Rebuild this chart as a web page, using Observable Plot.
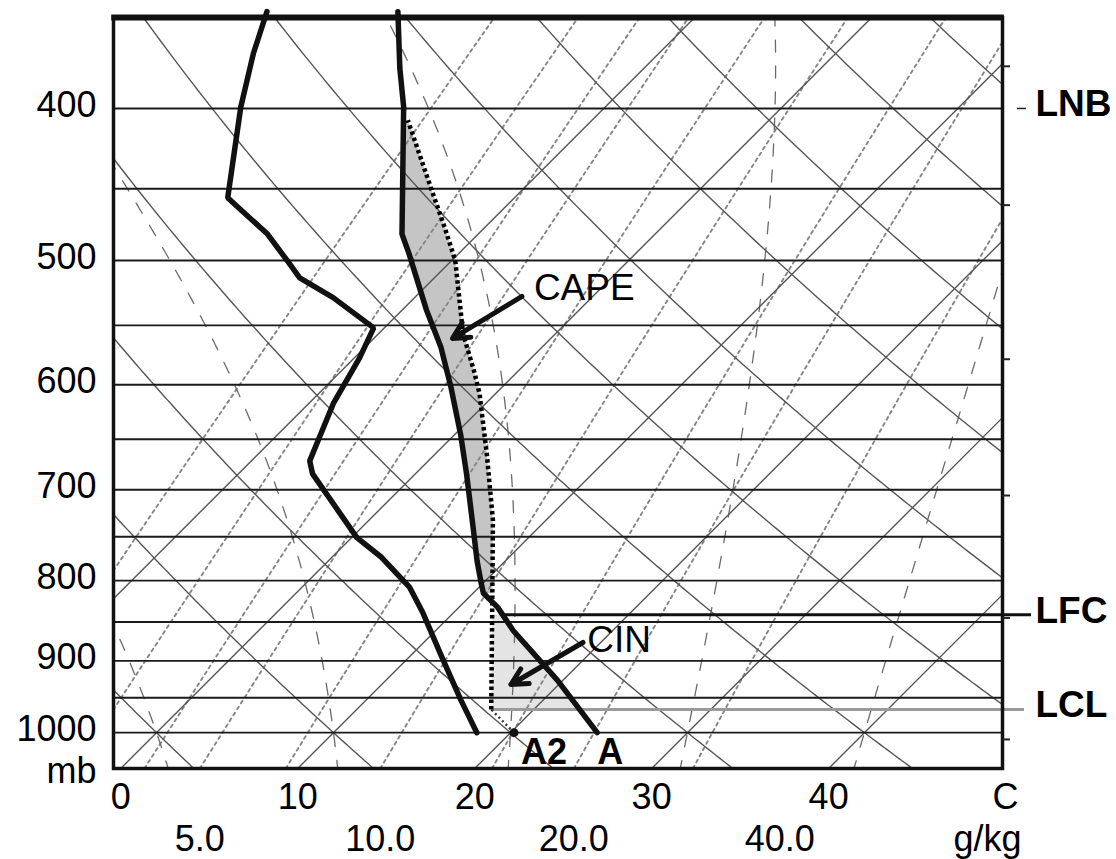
<!DOCTYPE html>
<html>
<head>
<meta charset="utf-8">
<script src="https://cdn.jsdelivr.net/npm/d3@7"></script>
<script src="https://cdn.jsdelivr.net/npm/@observablehq/plot@0.6"></script>
<style>
  html, body { margin: 0; padding: 0; background: #fff; }
</style>
</head>
<body>
<div id="chart"></div>
<script>
// ---------- grid values (tick / line values of the thermodynamic diagram) ----------
const isobars = [400, 450, 500, 550, 600, 650, 700, 750, 800, 850, 900, 950, 1000];
const pressureLabels = [400, 500, 600, 700, 800, 900, 1000];
const isotherms = [-10, 0, 10, 20, 30, 40];
const dryAdiabats = [0, 10, 20, 30, 40, 50, 60, 70, 80, 90, 100, 110];   // theta, °C
const moistAdiabats = [0, 10, 20, 30, 40];                               // theta-w, °C
const mixingRatios = [2, 3, 4, 5, 7, 10, 15, 20, 30];                    // g/kg
const tempTicks = [0, 10, 20, 30, 40, 50];
const tempTickLabels = ["0", "10", "20", "30", "40", "C"];
const mixTicks = [5, 10, 20, 40];
const mixTickLabels = ["5.0", "10.0", "20.0", "40.0"];
const heightTickP = [1010, 845, 706, 578, 461, 376];

// ---------- sounding, bottom to top ----------
const envP = [1000, 926, 896, 861, 832, 815, 803, 777, 740, 684, 645, 602, 568, 538, 495, 481, 399, 377, 347];
const envT = [24.9, 19.7, 17.3, 14.4, 12.2, 10.6, 9.9, 8.4, 6.3, 2.9, 0.3, -2.9, -5.7, -8.6, -12.8, -14.3, -21.4, -23.8, -27.1];

const dewP = [1000, 954, 899, 839, 808, 773, 751, 725, 684, 671, 617, 577, 552, 528, 513, 500, 481, 460, 456, 399, 369, 347];
const dewT = [18.1, 15.4, 12.1, 8.3, 6.1, 2.8, 0.3, -2.0, -5.8, -6.7, -8.6, -9.7, -10.6, -14.6, -17.6, -19.3, -21.9, -25.5, -26.2, -30.6, -32.9, -34.5];

const parcelP = [966.5, 841, 732, 664, 608, 588, 557, 500, 476, 451, 407];
const parcelT = [17.6, 12.3, 7.0, 2.9, -0.9, -2.5, -5.2, -9.8, -12.3, -15.1, -20.4];

const parcelLowP = [1000, 966.5];   // A2 -> LCL
const parcelLowT = [20.2, 17.6];

// levels
const lclP = 966.5, lfcP = 841, lnbP = 400, capeBottomP = 815, capeTopP = 407;

// ---------- diagram geometry ----------
const PBOT = 1054, PTOP = 350, SKEW = 38.49;
const X0 = -2.43, X1 = 47.80;
const sx = (T, p) => T + SKEW * Math.log(1000 / p);
const KAPPA = 0.2857;

function interp(P, T, p) {
  for (let i = 0; i < P.length - 1; i++) {
    const a = P[i], b = P[i + 1];
    if (p <= a && p >= b) {
      const f = Math.log(a / p) / Math.log(a / b);
      return T[i] + f * (T[i + 1] - T[i]);
    }
  }
  return p > P[0] ? T[0] : T[T.length - 1];
}

function region(pBot, pTop) {
  const pts = [];
  pts.push({p: pBot, T: interp(parcelP, parcelT, pBot)});
  parcelP.forEach((p, i) => { if (p < pBot && p > pTop) pts.push({p, T: parcelT[i]}); });
  pts.push({p: pTop, T: interp(parcelP, parcelT, pTop)});
  pts.push({p: pTop, T: interp(envP, envT, pTop)});
  for (let i = envP.length - 1; i >= 0; i--) if (envP[i] < pBot && envP[i] > pTop) pts.push({p: envP[i], T: envT[i]});
  pts.push({p: pBot, T: interp(envP, envT, pBot)});
  return pts;
}

const pSamples = d3.range(PBOT, PTOP - 6, -4);

// isotherms (straight)
const isoData = isotherms.flatMap(T => [PBOT, PTOP - 5].map(p => ({id: T, X: sx(T, p), p})));
// dry adiabats
const dryData = dryAdiabats.flatMap(th => pSamples.map(p => ({id: th, X: sx((th + 273.15) * Math.pow(p / 1000, KAPPA) - 273.15, p), p})));
// moist (pseudo) adiabats, integrated from 1000 hPa
function dTdp(p, T) {
  const es = 6.112 * Math.exp(17.67 * (T - 273.15) / (T - 29.65));
  const rs = 0.622 * es / (p - es);
  const Lv = 2.501e6, Rd = 287.04, cp = 1005.7;
  return (Rd * T + Lv * rs) / (cp + Lv * Lv * rs * 0.622 / (Rd * T * T)) / p;
}
function rk4(p, T, h) {
  const k1 = dTdp(p, T), k2 = dTdp(p + h / 2, T + h * k1 / 2), k3 = dTdp(p + h / 2, T + h * k2 / 2), k4 = dTdp(p + h, T + h * k3);
  return T + h * (k1 + 2 * k2 + 2 * k3 + k4) / 6;
}
function moistLine(tw) {
  const out = [];
  let T = tw + 273.15;
  for (let p = 1000; p >= PTOP - 6; p -= 2) { out.push({id: tw, X: sx(T - 273.15, p), p}); T = rk4(p, T, -2); }
  const down = [];
  T = tw + 273.15;
  for (let p = 1000; p <= PBOT + 4; p += 2) { T = rk4(p, T, 2); down.push({id: tw, X: sx(T - 273.15, p + 2), p: p + 2}); }
  return down.reverse().concat(out);
}
const moistData = moistAdiabats.flatMap(moistLine);
// mixing ratio lines
const tdFromW = (w, p) => { const e = w * p / (622 + w); const l = Math.log(e / 6.112); return 243.5 * l / (17.67 - l); };
const mixData = mixingRatios.flatMap(w => pSamples.map(p => ({id: w, X: sx(tdFromW(w, p), p), p})));

const prof = (P, T) => P.map((p, i) => ({p, X: sx(T[i], p)}));
const capeRegion = region(capeBottomP, capeTopP).map(d => ({p: d.p, X: sx(d.T, d.p)}));
const cinRegion = region(lclP, lfcP).map(d => ({p: d.p, X: sx(d.T, d.p)}));

const FONT = "'Liberation Sans', Arial, Helvetica, sans-serif";
const pxX = (px) => X0 + (px - 113) * (X1 - X0) / 889;  // helper for annotation extents only

const annotations = [
  {text: "CAPE", T: -3.1, p: 530.2},
  {text: "CIN", T: 19.8, p: 888.9}
];
const arrows = [
  {T1: -4.0, p1: 527.1, T2: -5.55, p2: 560.6},
  {T1: 19.0, p1: 876, T2: 17.3, p2: 931.7}
];

const chart = Plot.plot({
  width: 1116,
  height: 859,
  marginLeft: 113,
  marginRight: 114,
  marginTop: 17,
  marginBottom: 91,
  x: {domain: [X0, X1], axis: null},
  y: {type: "log", domain: [PBOT, PTOP], axis: null},
  style: {fontFamily: FONT, background: "#fff", color: "#000", overflow: "visible"},
  marks: [
    // shading
    Plot.line(capeRegion, {x: "X", y: "p", fill: "#c5c5c5", stroke: "none"}),
    Plot.line(cinRegion, {x: "X", y: "p", fill: "#e4e4e4", stroke: "none"}),
    // grid
    Plot.line(mixData, {x: "X", y: "p", z: "id", stroke: "#858585", strokeWidth: 1.9, strokeDasharray: "3,4", clip: true}),
    Plot.line(moistData, {x: "X", y: "p", z: "id", stroke: "#6a6a6a", strokeWidth: 1.3, strokeDasharray: "12,14", clip: true}),
    Plot.line(isoData, {x: "X", y: "p", z: "id", stroke: "#555", strokeWidth: 1.4, clip: true}),
    Plot.line(dryData, {x: "X", y: "p", z: "id", stroke: "#555", strokeWidth: 1.4, clip: true}),
    Plot.ruleY(isobars, {stroke: "#1a1a1a", strokeWidth: 1.9}),
    // LCL / LFC / LNB levels
    Plot.ruleY([lclP], {x1: sx(interp(parcelP, parcelT, lclP), lclP), x2: pxX(1024), stroke: "#9a9a9a", strokeWidth: 3}),
    Plot.ruleY([lfcP], {x1: sx(interp(envP, envT, lfcP), lfcP), x2: pxX(1031), stroke: "#111", strokeWidth: 3}),
    Plot.ruleY([lnbP], {x1: pxX(1017), x2: pxX(1026), stroke: "#222", strokeWidth: 1.5}),
    // parcel path
    Plot.line(prof(parcelP, parcelT), {x: "X", y: "p", stroke: "#000", strokeWidth: 4.5, strokeDasharray: "3.5,3", strokeLinecap: "butt"}),
    Plot.line(prof(parcelLowP, parcelLowT), {x: "X", y: "p", stroke: "#333", strokeWidth: 2.4, strokeDasharray: "2,3", strokeLinecap: "butt"}),
    // profiles
    Plot.line(prof(dewP, dewT), {x: "X", y: "p", stroke: "#111", strokeWidth: 5.5, strokeLinejoin: "miter"}),
    Plot.line(prof(envP, envT), {x: "X", y: "p", stroke: "#111", strokeWidth: 5.5, strokeLinejoin: "miter"}),
    Plot.dot([{p: parcelLowP[0], T: parcelLowT[0]}], {x: d => sx(d.T, d.p), y: "p", r: 4.5, fill: "#111"}),
    // arrows
    Plot.arrow(arrows, {x1: d => sx(d.T1, d.p1), y1: "p1", x2: d => sx(d.T2, d.p2), y2: "p2", stroke: "#111", strokeWidth: 5, headLength: 5.5, headAngle: 55}),
    // frame
    Plot.frame({stroke: "#111", strokeWidth: 3.5}),
    Plot.ruleY([PTOP], {x1: X0 - 0.1, x2: X1 + 0.1, stroke: "#111", strokeWidth: 6}),
    Plot.ruleY(heightTickP, {x1: X1, x2: pxX(1010), stroke: "#222", strokeWidth: 2}),
    // texts
    Plot.text(pressureLabels, {y: d => d, text: d => String(d), frameAnchor: "left", textAnchor: "end", dx: -17, dy: -3, fontSize: 36}),
    Plot.text(["mb"], {frameAnchor: "bottom-left", textAnchor: "end", lineAnchor: "bottom", dx: -17, dy: 14, fontSize: 36}),
    Plot.text(tempTicks, {x: d => sx(d, PBOT), text: (d, i) => tempTickLabels[i], frameAnchor: "bottom", lineAnchor: "bottom", dy: 40, fontSize: 36}),
    Plot.text(mixTicks, {x: d => sx(tdFromW(d, PBOT), PBOT), text: (d, i) => mixTickLabels[i], frameAnchor: "bottom", lineAnchor: "bottom", dy: 82, fontSize: 36}),
    Plot.text(["g/kg"], {frameAnchor: "bottom-right", textAnchor: "middle", lineAnchor: "bottom", dx: -15, dy: 82, fontSize: 36}),
    Plot.text(annotations, {x: d => sx(d.T, d.p), y: "p", text: "text", textAnchor: "start", lineAnchor: "bottom", fontSize: 37}),
    Plot.text([{p: parcelLowP[0], T: parcelLowT[0], t: "A2"}], {x: d => sx(d.T, d.p), y: "p", text: "t", textAnchor: "start", lineAnchor: "bottom", dx: 7, dy: 31, fontSize: 36, fontWeight: "bold"}),
    Plot.text([{p: envP[0], T: envT[0], t: "A"}], {x: d => sx(d.T, d.p), y: "p", text: "t", textAnchor: "start", lineAnchor: "bottom", dy: 31, fontSize: 36, fontWeight: "bold"}),
    Plot.text([{p: lnbP, t: "LNB"}, {p: lfcP, t: "LFC"}, {p: lclP, t: "LCL"}], {y: "p", text: "t", frameAnchor: "right", textAnchor: "start", dx: 33, dy: -4, fontSize: 37, fontWeight: "bold"})
  ]
});
document.getElementById("chart").appendChild(chart);
</script>
</body>
</html>
